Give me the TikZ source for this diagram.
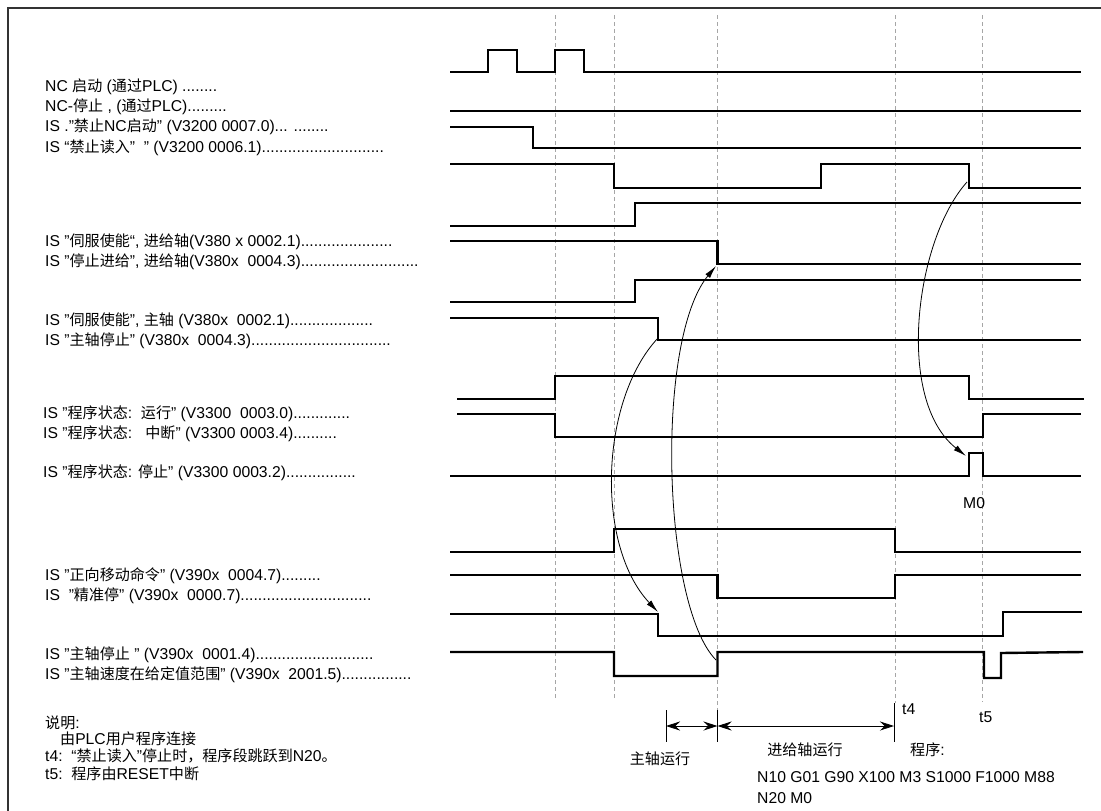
\documentclass[tikz,border=0pt]{standalone}
\usepackage{fontspec}
\setmainfont{Liberation Sans}
\newfontfamily\zhfont[Scale=0.96]{Noto Sans CJK SC}
\newcommand\zh[1]{{\zhfont #1}}
\usetikzlibrary{arrows.meta}
\begin{document}
\begin{tikzpicture}[x=1pt,y=-1pt,
 wave/.style={line width=2.4pt, line join=miter},
 gridline/.style={draw=gray!70, line width=0.6pt, dash pattern=on 4pt off 3pt},
 lbl/.style={anchor=west, inner sep=0pt, font=\fontsize{15.7}{18}\selectfont},
 txt/.style={inner sep=0pt, font=\fontsize{15.7}{18}\selectfont},
 link/.style={line width=0.8pt, -{Latex[length=13pt,width=6pt]}},
 dimline/.style={line width=0.8pt, {Stealth[length=14pt,width=9pt]}-{Stealth[length=14pt,width=9pt]}},
 tick/.style={line width=0.9pt}
 ]
\useasboundingbox (0,0) rectangle (1101,811);
% frame
\draw[line width=2pt, draw=black!80] (8,811) -- (8,8) -- (1101,8);

% dashed time markers
\foreach \xx/\yy in {555/700, 614/700, 717.5/710, 895/703, 982/702}
  \draw[gridline] (\xx,15) -- (\xx,\yy);

% labels
\node[lbl] (l1) at (45,87) {NC \zh{启动} (\zh{通过}PLC) ........};
\node[lbl] (l2) at (45,107) {NC-\zh{停止} , (\zh{通过}PLC).........};
\node[lbl] (l3) at (45,127) {IS ."\zh{禁止}NC\zh{启动}" (V3200 0007.0)... ........};
\node[lbl] (l4) at (45,148) {IS “\zh{禁止读入}”\ \ " (V3200 0006.1)............................};
\node[lbl] (l5) at (45,242) {IS "\zh{伺服使能}“, \zh{进给轴}(V380 x 0002.1).....................};
\node[lbl] (l6) at (45,262) {IS "\zh{停止进给}", \zh{进给轴}(V380x\ \ 0004.3)...........................};
\node[lbl] (l7) at (45,321) {IS "\zh{伺服使能}", \zh{主轴} (V380x\ \ 0002.1)...................};
\node[lbl] (l8) at (45,341) {IS "\zh{主轴停止}" (V380x\ \ 0004.3)................................};
\node[lbl] (l9) at (43,414) {IS "\zh{程序状态}:\ \ \zh{运行}" (V3300\ \ 0003.0).............};
\node[lbl] (l10) at (43,434) {IS "\zh{程序状态}:\ \ \ \zh{中断}" (V3300 0003.4)..........};
\node[lbl] (l11) at (43,473) {IS "\zh{程序状态}: \zh{停止}" (V3300 0003.2)................};
\node[lbl] (l12) at (45,576) {IS "\zh{正向移动命令}" (V390x\ \ 0004.7).........};
\node[lbl] (l13) at (45,596) {IS\ \ "\zh{精准停}" (V390x\ \ 0000.7)..............................};
\node[lbl] (l14) at (45,655) {IS "\zh{主轴停止} " (V390x\ \ 0001.4)...........................};
\node[lbl] (l15) at (45,675) {IS "\zh{主轴速度在给定值范围}" (V390x\ \ 2001.5)................};

\node[lbl] (n1) at (45,723) {\zh{说明}:};
\node[lbl] (n2) at (60,739) {\zh{由}PLC\zh{用户程序连接}};
\node[lbl] (n3) at (45,756) {t4:\ \ “\zh{禁止读入}”\zh{停止时，程序段跳跃到}N20\zh{。}};
\node[lbl] (n4) at (45,774) {t5:\ \ \zh{程序由}RESET\zh{中断}};

% waveforms
\draw[wave] (450,72) -- (488,72) -- (488,50) -- (517,50) -- (517,72) -- (555,72) -- (555,50) -- (584,50) -- (584,72) -- (1081,72);
\draw[wave] (450,111) -- (1081,111);
\draw[wave] (450,127) -- (533,127) -- (533,148) -- (1081,148);
\draw[wave] (450,164) -- (614,164) -- (614,188) -- (821,188) -- (821,164) -- (969,164) -- (969,188) -- (1081,188);
\draw[wave] (450,226) -- (635,226) -- (635,203) -- (1081,203);
\draw[wave] (450,241) -- (717.5,241) -- (717.5,264) -- (1081,264);
\draw[wave] (450,302) -- (635,302) -- (635,280) -- (1081,280);
\draw[wave] (450,318) -- (658,318) -- (658,340) -- (1081,340);
\draw[wave] (457,399) -- (555,399) -- (555,376) -- (969,376) -- (969,399) -- (1084,399);
\draw[wave] (457,414) -- (555,414) -- (555,437) -- (983,437) -- (983,414) -- (1081,414);
\draw[wave] (450,476) -- (969,476) -- (969,453) -- (983,453) -- (983,476) -- (1081,476);
\draw[wave] (450,552) -- (614,552) -- (614,529) -- (895,529) -- (895,552) -- (1081,552);
\draw[wave] (450,575) -- (717.5,575) -- (717.5,598) -- (895,598) -- (895,575) -- (1081,575);
\draw[wave] (450,614) -- (658,614) -- (658,636) -- (1003,636) -- (1003,612) -- (1082,612);
\draw[wave] (450,652) -- (614,652) -- (614,676) -- (717.5,676) -- (717.5,652) -- (984,652) -- (984,678) -- (1001,678) -- (1001,653) -- (1083,652);

\node[txt, anchor=west] (m0) at (963,503) {M0};

% causal links
\coordinate (a1s) at (967,182);
\coordinate (a1e) at (966,456);
\draw[link] (a1s) .. controls (915,240) and (895,400) .. (a1e);
\coordinate (b1s) at (716,660);
\coordinate (b1e) at (716,266);
\draw[link] (b1s) .. controls (662,605) and (655,340) .. (b1e);
\coordinate (c1s) at (658,338);
\coordinate (c1e) at (658,612);
\draw[link] (c1s) .. controls (600,400) and (595,545) .. (c1e);

% dimensions
\coordinate (d1) at (666,726);
\coordinate (d2) at (717.5,726);
\coordinate (d3) at (894,726);
\draw[tick] (666,710) -- (666,742);
\draw[tick] (717.5,710) -- (717.5,742);
\draw[tick] (894,703) -- (894,742);
\draw[dimline] (d1) -- (d2);
\draw[dimline] (d2) -- (d3);

\node[txt] (run1) at (660,759) {\zh{主轴运行}};
\node[txt] (run2) at (805,750) {\zh{进给轴运行}};
\node[txt, anchor=west] (prg) at (910,750) {\zh{程序}:};
\node[txt, anchor=west] (p1) at (757,777) {N10 G01 G90 X100 M3 S1000 F1000 M88};
\node[txt, anchor=west] (p2) at (757,798) {N20 M0};
\node[txt, anchor=west] (t4) at (902,709) {t4};
\node[txt, anchor=west] (t5) at (979,717) {t5};
\end{tikzpicture}
\end{document}
